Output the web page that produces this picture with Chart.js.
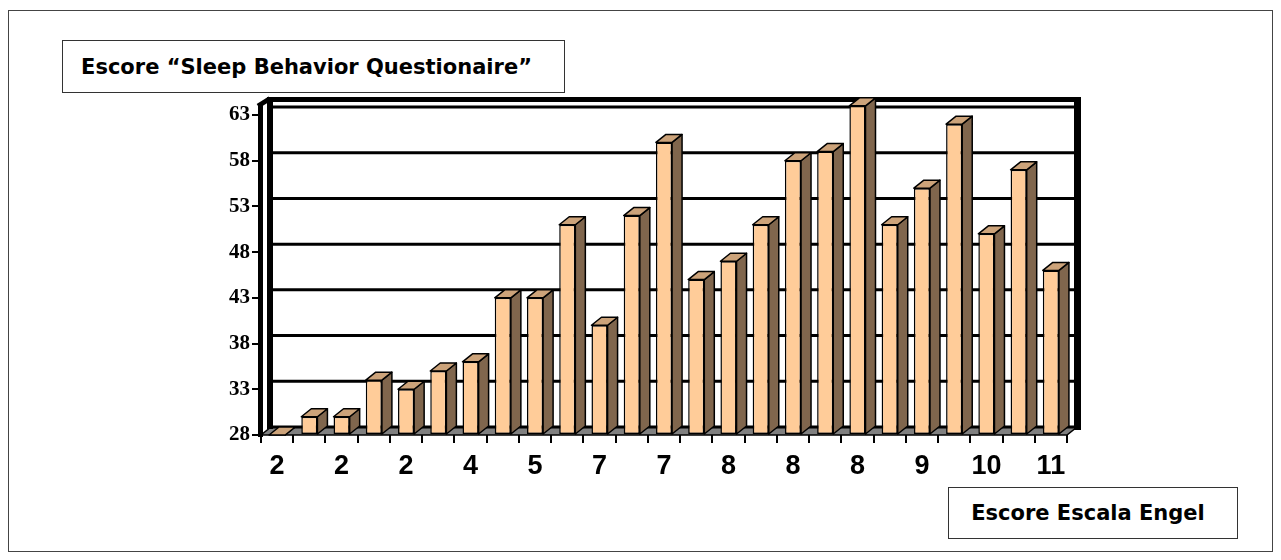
<!DOCTYPE html>
<html>
<head>
<meta charset="utf-8">
<script src="https://cdn.jsdelivr.net/npm/chart.js@4.4.0/dist/chart.umd.min.js"></script>
<style>
  body { margin: 0; background: #fff; }
  #wrap { position: relative; width: 1281px; height: 560px; }
  #frame { position: absolute; left: 8px; top: 10px; width: 1263px; height: 540px; border: 1px solid #444; }
  .box { position: absolute; border: 1.5px solid #333; background: #fff; font-family: "DejaVu Sans", Verdana, sans-serif;
         font-weight: bold; color: #000; display: flex; align-items: center; justify-content: center; box-sizing: border-box; }
  #yTitle { left: 62px; top: 40px; width: 503px; height: 53px; font-size: 21px; padding-right: 14px; }
  #xTitle { left: 948px; top: 487px; width: 290px; height: 52px; font-size: 21px; padding-right: 10px; }
  canvas { position: absolute; left: 0; top: 0; }
</style>
</head>
<body>
<div id="wrap">
  <canvas id="grafico" width="1281" height="560"></canvas>
  <div id="frame"></div>
  <div class="box" id="yTitle">Escore “Sleep Behavior Questionaire”</div>
  <div class="box" id="xTitle">Escore Escala Engel</div>
</div>
<script>
// escore Engel (um rotulo a cada duas colunas)
var engelLabels = ['2', '2', '2', '4', '5', '7', '7', '8', '8', '8', '9', '10', '11'];

// escore SBQ por paciente
var sbqScores = [28, 30, 30, 34, 33, 35, 36, 43, 43, 51, 40, 52, 60, 45, 47, 51, 58, 59, 64, 51, 55, 62, 50, 57, 46];

var yTicks = [28, 33, 38, 43, 48, 53, 58, 63];

var categorias = sbqScores.map(function(v, i) {
    return i % 2 === 0 ? engelLabels[i / 2] : '';
});

// profundidade do efeito 3D
var dx = 10, dy = 8;

var paredes = {
    id: 'paredes',
    beforeDatasetsDraw: function(chart) {
        var ctx = chart.ctx;
        var ca = chart.chartArea;
        var y = chart.scales.y;
        var L = ca.left, R = ca.right, T = ca.top, B = ca.bottom;
        ctx.save();
        ctx.strokeStyle = '#000';

        // linhas de grade na parede do fundo
        ctx.lineWidth = 3;
        yTicks.forEach(function(v) {
            if (v === yTicks[0]) return;
            var py = y.getPixelForValue(v) - dy;
            ctx.beginPath();
            ctx.moveTo(L + dx, py);
            ctx.lineTo(R + dx, py);
            ctx.stroke();
        });

        // piso
        ctx.fillStyle = '#808080';
        ctx.lineWidth = 1.5;
        ctx.beginPath();
        ctx.moveTo(L, B);
        ctx.lineTo(R, B);
        ctx.lineTo(R + dx, B - dy);
        ctx.lineTo(L + dx, B - dy);
        ctx.closePath();
        ctx.fill();
        ctx.stroke();

        // base da parede do fundo
        ctx.lineWidth = 3;
        ctx.beginPath();
        ctx.moveTo(L + dx, B - dy);
        ctx.lineTo(R + dx + 3, B - dy);
        ctx.stroke();

        // bordas grossas da parede do fundo
        var topo = T - dy - 7.5;
        ctx.lineWidth = 5;
        ctx.beginPath();
        ctx.moveTo(L + dx - 3, topo);
        ctx.lineTo(R + dx + 4, topo);
        ctx.stroke();
        ctx.lineWidth = 7;
        ctx.beginPath();
        ctx.moveTo(R + dx + 0.5, topo - 2.5);
        ctx.lineTo(R + dx + 0.5, B - dy + 3);
        ctx.stroke();
        ctx.lineWidth = 6;
        ctx.beginPath();
        ctx.moveTo(L + dx - 1, topo - 2.5);
        ctx.lineTo(L + dx - 1, B - dy + 2);
        ctx.stroke();

        // parede lateral esquerda
        ctx.lineWidth = 5;
        ctx.beginPath();
        ctx.moveTo(L - 0.5, T - 10);
        ctx.lineTo(L - 0.5, B + 2);
        ctx.stroke();
        ctx.beginPath();
        ctx.moveTo(L - 3, T - 9);
        ctx.lineTo(L + dx - 1, topo - 1);
        ctx.stroke();
        ctx.restore();
    },
    afterDatasetsDraw: function(chart) {
        var ctx = chart.ctx;
        var meta = chart.getDatasetMeta(0);
        ctx.save();
        ctx.strokeStyle = '#000';
        ctx.lineWidth = 1.5;
        ctx.lineJoin = 'round';
        meta.data.forEach(function(bar) {
            var p = bar.getProps(['x', 'y', 'base', 'width'], true);
            var x0 = p.x - p.width / 2, x1 = p.x + p.width / 2;
            // lateral
            ctx.fillStyle = '#80664D';
            ctx.beginPath();
            ctx.moveTo(x1, p.y);
            ctx.lineTo(x1 + dx, p.y - dy);
            ctx.lineTo(x1 + dx, p.base - dy);
            ctx.lineTo(x1, p.base);
            ctx.closePath();
            ctx.fill();
            ctx.stroke();
            // topo
            ctx.fillStyle = '#CCA37A';
            ctx.beginPath();
            ctx.moveTo(x0, p.y);
            ctx.lineTo(x0 + dx, p.y - dy);
            ctx.lineTo(x1 + dx, p.y - dy);
            ctx.lineTo(x1, p.y);
            ctx.closePath();
            ctx.fill();
            ctx.stroke();
        });
        ctx.restore();
    }
};

var ctxGrafico = document.getElementById('grafico').getContext('2d');

var graficoSBQ = new Chart(ctxGrafico, {
    type: 'bar',
    data: {
        labels: categorias,
        datasets: [{
            label: 'SBQ',
            data: sbqScores,
            base: yTicks[0],
            backgroundColor: '#FFCC99',
            borderColor: '#000',
            borderWidth: 1.5,
            borderSkipped: false,
            barPercentage: 0.5,
            categoryPercentage: 1,
            clip: false
        }]
    },
    options: {
        responsive: false,
        animation: false,
        layout: {
            padding: { left: 0, right: 214, top: 115, bottom: 65 }
        },
        plugins: {
            legend: { display: false },
            tooltip: { enabled: false }
        },
        scales: {
            x: {
                afterFit: function(scale) { scale.height = 60; },
                border: { display: false },
                grid: { display: true, drawOnChartArea: false, drawTicks: true, tickLength: 8, color: '#000', lineWidth: 2, offset: true },
                ticks: {
                    autoSkip: false,
                    maxRotation: 0,
                    padding: 7,
                    color: '#000',
                    font: { family: 'Liberation Sans', size: 27, weight: 'bold' }
                }
            },
            y: {
                min: 28,
                max: 63,
                afterFit: function(scale) { scale.width = 261; },
                afterBuildTicks: function(scale) {
                    scale.ticks = yTicks.map(function(v) { return { value: v }; });
                },
                border: { display: false },
                grid: { display: true, drawOnChartArea: false, drawTicks: true, tickLength: 9, color: '#000', lineWidth: 2 },
                ticks: {
                    padding: 2,
                    color: '#000',
                    font: { family: 'Liberation Serif', size: 21, weight: 'bold' }
                }
            }
        }
    },
    plugins: [paredes]
});
</script>
</body>
</html>
